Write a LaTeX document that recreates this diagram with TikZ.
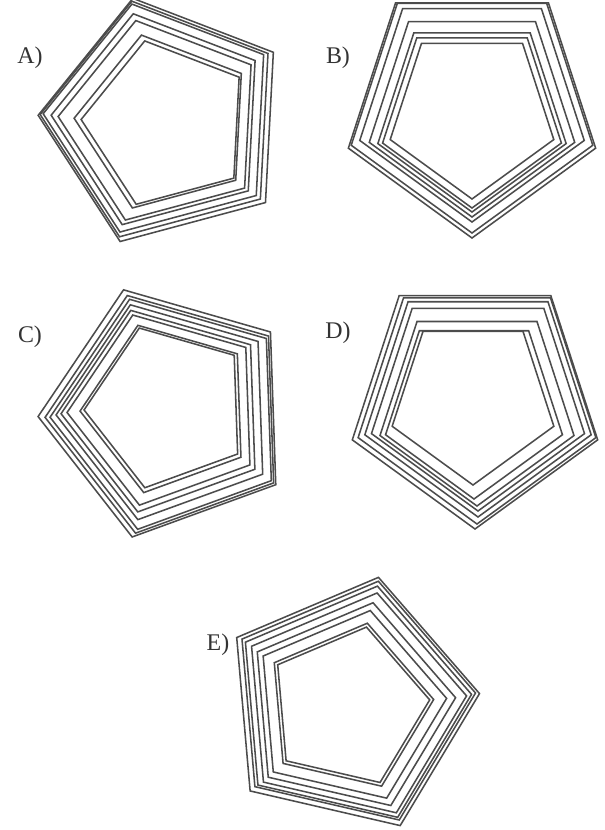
\documentclass[tikz,border=0pt]{standalone}
\usepackage{amsmath}
\usepackage{fontspec}
\setmainfont{Liberation Serif}
\usetikzlibrary{calc}

\begin{document}
\begin{tikzpicture}[x=0.025cm, y=0.025cm,
    pentline/.style={draw=black!70, line width=1.1pt, line join=miter},
    optlabel/.style={font=\fontsize{17}{19}\selectfont, text=black!80}]
    \useasboundingbox (0, 0) rectangle (605, -830);

    \node[optlabel] (labA) at (30, -58) {A)};
    \begin{scope}[shift={(166, -122)}]
        \foreach \r/\dx/\dy in {128/0/0, 124/-2/1, 120/-3/2, 111/-4/1, 105/-3/0, 91/-1/-1, 86/1/-2}
            \draw[pentline, shift={(\dx, \dy)}, rotate=15] (90:\r) -- (162:\r) -- (234:\r) -- (306:\r) -- (18:\r) -- cycle;
    \end{scope}

    \node[optlabel] (labB) at (338, -58) {B)};
    \begin{scope}[shift={(472, -108)}]
        \foreach \r/\dx/\dy in {130/0/0, 127/0/2, 118/0/4, 108/0/-1, 99/0/-5, 94/0/-6, 86/0/-5}
            \draw[pentline, shift={(\dx, \dy)}, rotate=180] (90:\r) -- (162:\r) -- (234:\r) -- (306:\r) -- (18:\r) -- cycle;
    \end{scope}

    \node[optlabel] (labC) at (30, -337) {C)};
    \begin{scope}[shift={(168, -412)}]
        \foreach \r/\dx/\dy in {130/0/0, 125/2/-1, 121/3/-1, 113/1/1, 106/-1/2, 100/-1/3, 88/0/4, 84/0/5}
            \draw[pentline, shift={(\dx, \dy)}, rotate=20] (90:\r) -- (162:\r) -- (234:\r) -- (306:\r) -- (18:\r) -- cycle;
    \end{scope}

    \node[optlabel] (labD) at (338, -333) {D)};
    \begin{scope}[shift={(475, -400)}]
        \foreach \r/\dx/\dy in {129/0/0, 125/2/1, 119/3/2, 112/3/1, 102/2/-4, 93/-1/-6, 85/-2/0}
            \draw[pentline, shift={(\dx, \dy)}, rotate=180] (90:\r) -- (162:\r) -- (234:\r) -- (306:\r) -- (18:\r) -- cycle;
    \end{scope}

    \node[optlabel] (labE) at (218, -645) {E)};
    \begin{scope}[shift={(349, -705)}]
        \foreach \r/\dx/\dy in {131/0/0, 126/1/1, 122/1/0, 116/2/-1, 107/0/-2, 99/-1/-2, 86/-1/-2, 82/-1/-2}
            \draw[pentline, shift={(\dx, \dy)}, rotate=-13] (90:\r) -- (162:\r) -- (234:\r) -- (306:\r) -- (18:\r) -- cycle;
    \end{scope}
\end{tikzpicture}
\end{document}
